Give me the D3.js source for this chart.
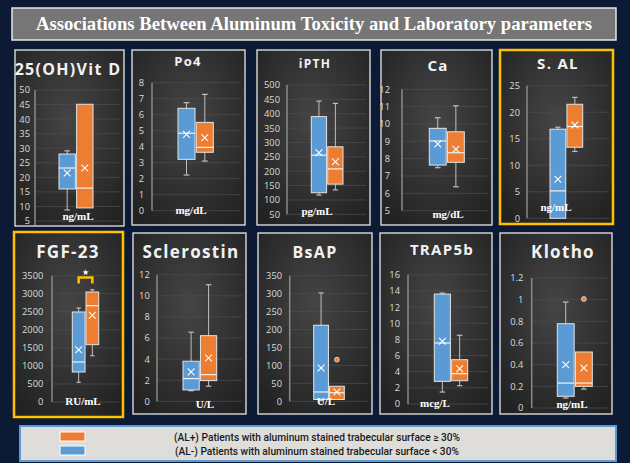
<!DOCTYPE html>
<html><head><meta charset="utf-8">
<script src="https://cdn.jsdelivr.net/npm/d3@7"></script>
<style>body{margin:0;background:#fff}svg{display:block}</style>
</head><body><svg id="c" width="630" height="470"></svg>
<script>
// ---------- DATA ----------
const chartTitle = "Associations Between Aluminum Toxicity and Laboratory parameters";
const panelTitles = ["25(OH)Vit D","Po4","iPTH","Ca","S. AL","FGF-23","Sclerostin","BsAP","TRAP5b","Klotho"];
const panelUnits = ["ng/mL","mg/dL","pg/mL","mg/dL","ng/mL","RU/mL","U/L","U/L","mcg/L","ng/mL"];
const groups = ["AL-","AL+"];
const legendLabels = [
  "(AL+) Patients with aluminum stained trabecular surface \u2265 30%",
  "(AL-) Patients with aluminum stained trabecular surface < 30%"
];
const yTicks = [
  [5,10,15,20,25,30,35,40,45,50],
  [0,1,2,3,4,5,6,7,8],
  [50,100,150,200,250,300,350,400,450,500],
  [5,6,7,8,9,10,11,12],
  [0,5,10,15,20,25],
  [0,500,1000,1500,2000,2500,3000,3500],
  [0,2,4,6,8,10,12],
  [0,50,100,150,200,250,300,350],
  [0,2,4,6,8,10,12,14,16],
  [0,0.2,0.4,0.6,0.8,1,1.2]
];
// AL- (blue)
const negMin    = [8.8, 2.23, 117, 7.48, 0,    546, 1.0,  2,   1.48, 0.092];
const negQ1     = [16,  3.21, 125, 7.63, 0,    832, 1.08, 5,   2.8,  0.108];
const negMedian = [23.2,4.84, 256, 9.02, 5.17, 1109,2.15, 26,  7.55, 0.23];
const negQ3     = [28,  6.4,  390, 9.75, 16.8, 2494,3.8,  212, 13.6, 0.778];
const negMax    = [29.1,6.75, 444, 10.36,17.17,2605,6.55, 302, 13.73,0.978];
const negMean   = [21.5,4.77, 264, 8.85, 7.37, 1450,2.79, 93,  7.76, 0.4];
// AL+ (orange)
const posMin    = [9.5, 3.1,  135, 6.38, 12.6, 1283,1.43, 4,   2.26, 0.175];
const posQ1     = [9.5, 3.65, 155, 7.79, 13.4, 1588,1.96, 5,   2.88, 0.2];
const posMedian = [16.3,3.96, 208, 8.34, 17.3, 2669,2.53, 24,  3.75, 0.23];
const posQ3     = [45.1,5.52, 285, 9.55, 21.5, 3048,6.22, 42,  5.48, 0.517];
const posMax    = [45.1,7.27, 436, 11.05,22.8, 3112,11.05,42,  8.5,  0.517];
const posMean   = [23.2,4.56, 233, 8.54, 17.6, 2403,4.11, 26,  4.37, 0.37];
const posOutliers = [[],[],[],[],[],[],[],[116],[],[1.006]];
const significant = [false,false,false,false,false,true,false,false,false,false];

// ---------- LAYOUT ----------
const panelRects = [[15,50,109,176],[132,50,113,175],[257,50,113,175],[381,50,111,175],[500,50,113,174],
                    [14,232,109,185],[133,233,113,181],[258,233,114,181],[380,233,112,181],[500,233,112,181]];
const highlighted = [false,false,false,false,true,true,false,false,false,false];
const axisXs   = [35,152,287,402,527,52,157,289.7,408,531.7];
const yTops    = [90,82.7,85,89.3,85.7,275.7,274.7,275.7,274.7,278];
const yBottoms = [221,210.7,214.3,210.7,218.3,402,401.3,401.3,404,408];
const boxX0s   = [59,178,311.3,429.3,550,72.3,183,313.7,434.3,557.3];
const boxX1s   = [93,213.3,343,464.3,582.7,98.7,216.7,344.3,467.7,592.3];
const labelRights = [30,144,280,390,520,43.3,149.7,282,400,523.3];
const titleXs  = [68,188,315,438,558,68,191,315,442,563];
const titleYs  = [75,66,68,71,69,258,258,258,255,258];
const titleSizes = [16,13,12,15,15,17,17,16,15,17];
const unitXs   = [78,191,317,448,556,83,205,326,435,572];
const unitYs   = [220,214,215,218,211,405,408,405,407,408];

const BLUE = "#5b9bd5", ORANGE = "#ed7d31";

const svg = d3.select("#c");
const defs = svg.append("defs");
const rg = defs.append("radialGradient").attr("id","pbg").attr("cx","50%").attr("cy","40%").attr("r","70%");
rg.append("stop").attr("offset","0%").attr("stop-color","#454545");
rg.append("stop").attr("offset","100%").attr("stop-color","#222222");

svg.append("rect").attr("width",630).attr("height",463).attr("fill","#0d1a36");
svg.append("rect").attr("y",463).attr("width",630).attr("height",7).attr("fill","#ffffff");

// Title
svg.append("rect").attr("x",12).attr("y",8).attr("width",604).attr("height",32)
  .attr("fill","#767676").attr("stroke","#e6e6e6").attr("stroke-width",1.5);
svg.append("text").attr("x",314).attr("y",30).attr("text-anchor","middle")
  .attr("font-family","Liberation Serif, serif").attr("font-weight","bold").attr("font-size",19)
  .attr("fill","#ffffff").attr("textLength",556).attr("lengthAdjust","spacingAndGlyphs").text(chartTitle);

panelTitles.forEach((title,i)=>{
  const [px,py,pw,ph] = panelRects[i];
  const g = svg.append("g");
  g.append("rect").attr("x",px).attr("y",py).attr("width",pw).attr("height",ph)
    .attr("fill","url(#pbg)")
    .attr("stroke", highlighted[i] ? "#ffc000" : "#e8e8e8")
    .attr("stroke-width", highlighted[i] ? 2.5 : 1.3);

  const ticks = yTicks[i];
  const y = d3.scaleLinear().domain([ticks[0], ticks[ticks.length-1]]).range([yBottoms[i], yTops[i]]);
  const x = d3.scaleBand().domain(groups).range([boxX0s[i], boxX1s[i]]).paddingInner(0.07);
  const ax = axisXs[i];

  // gridlines
  g.selectAll(".grid").data(ticks).enter().append("line")
    .attr("x1",ax).attr("x2",px+pw-4).attr("y1",d=>y(d)).attr("y2",d=>y(d))
    .attr("stroke","#4b4b4b").attr("stroke-width",0.8);
  // axis
  const axis = d3.axisLeft(y).tickValues(ticks).tickSize(0).tickPadding(ax-labelRights[i]).tickFormat(d=>String(d));
  const ag = g.append("g").attr("transform",`translate(${ax},0)`).call(axis);
  ag.select(".domain").remove();
  ag.selectAll("text").attr("fill","#dcdcdc").attr("font-family","Open Sans, sans-serif").attr("font-size",9.3);
  g.append("line").attr("x1",ax).attr("x2",ax).attr("y1",y.range()[1]).attr("y2",y.range()[0]+ (i===0?4:0))
    .attr("stroke","#8a8a8a").attr("stroke-width",1.5);

  const stats = [
    {grp:"AL-",color:BLUE,min:negMin[i],q1:negQ1[i],med:negMedian[i],q3:negQ3[i],max:negMax[i],mean:negMean[i],out:[]},
    {grp:"AL+",color:ORANGE,min:posMin[i],q1:posQ1[i],med:posMedian[i],q3:posQ3[i],max:posMax[i],mean:posMean[i],out:posOutliers[i]}
  ];
  stats.forEach(s=>{
    const x0 = x(s.grp), bw = x.bandwidth(), cx = x0+bw/2, cap = bw*0.17;
    [[s.q3,s.max],[s.q1,s.min]].forEach(([a,b])=>{
      if (Math.abs(y(a)-y(b))<0.5) return;
      g.append("line").attr("x1",cx).attr("x2",cx).attr("y1",y(a)).attr("y2",y(b)).attr("stroke","#bfbfbf").attr("stroke-width",1);
      g.append("line").attr("x1",cx-cap).attr("x2",cx+cap).attr("y1",y(b)).attr("y2",y(b)).attr("stroke","#bfbfbf").attr("stroke-width",1.2);
    });
    g.append("rect").attr("x",x0).attr("y",y(s.q3)).attr("width",bw).attr("height",Math.max(0.5,y(s.q1)-y(s.q3)))
      .attr("fill",s.color).attr("stroke","#e4e4e4").attr("stroke-width",1);
    g.append("line").attr("x1",x0).attr("x2",x0+bw).attr("y1",y(s.med)).attr("y2",y(s.med)).attr("stroke","#f2f2f2").attr("stroke-width",1.2);
    const my = y(s.mean), r = 3.4;
    g.append("path").attr("d",`M${cx-r},${my-r}L${cx+r},${my+r}M${cx-r},${my+r}L${cx+r},${my-r}`)
      .attr("stroke","#ffffff").attr("stroke-width",1.1).attr("fill","none");
    s.out.forEach(o=>{
      g.append("circle").attr("cx",cx).attr("cy",y(o)).attr("r",2.4).attr("fill",s.color).attr("stroke","#f0f0f0").attr("stroke-width",0.8);
    });
  });

  if (significant[i]) {
    const xa = x("AL-")+x.bandwidth()/2, xb = x("AL+")+x.bandwidth()/2;
    const yb = y(3450);
    g.append("path").attr("d",`M${xa},${yb+6}V${yb}H${xb}V${yb+6}`).attr("fill","none")
      .attr("stroke","#ffc000").attr("stroke-width",2.5);
    g.append("text").attr("x",(xa+xb)/2).attr("y",yb-3).attr("text-anchor","middle")
      .attr("font-size",8).attr("fill","#ffffff").attr("font-family","DejaVu Sans").text("\u2605");
  }

  g.append("text").attr("x",titleXs[i]).attr("y",titleYs[i]).attr("text-anchor","middle")
    .attr("font-family","Open Sans, sans-serif").attr("font-weight","bold").attr("font-size",titleSizes[i])
    .attr("letter-spacing",1.3).attr("fill","#f2f2f2").text(title);
  g.append("text").attr("x",unitXs[i]).attr("y",unitYs[i]).attr("text-anchor","middle")
    .attr("font-family","Liberation Serif, serif").attr("font-weight","bold").attr("font-size",11)
    .attr("fill","#ffffff").text(panelUnits[i]);
});

// Legend
svg.append("rect").attr("x",20).attr("y",426).attr("width",596).attr("height",35)
  .attr("fill","#dfddda").attr("stroke","#5b9bd5").attr("stroke-width",2);
[ORANGE,BLUE].forEach((c,k)=>{
  svg.append("rect").attr("x",60).attr("y",432+k*14).attr("width",25).attr("height",9)
    .attr("fill",c).attr("stroke","#ffffff").attr("stroke-width",1);
  svg.append("text").attr("x",317).attr("y",440.5+k*14).attr("text-anchor","middle")
    .attr("font-family","Roboto, sans-serif").attr("font-size",10.2).attr("font-weight",500)
    .attr("fill","#1a1a1a").text(legendLabels[k]);
});
</script></body></html>
